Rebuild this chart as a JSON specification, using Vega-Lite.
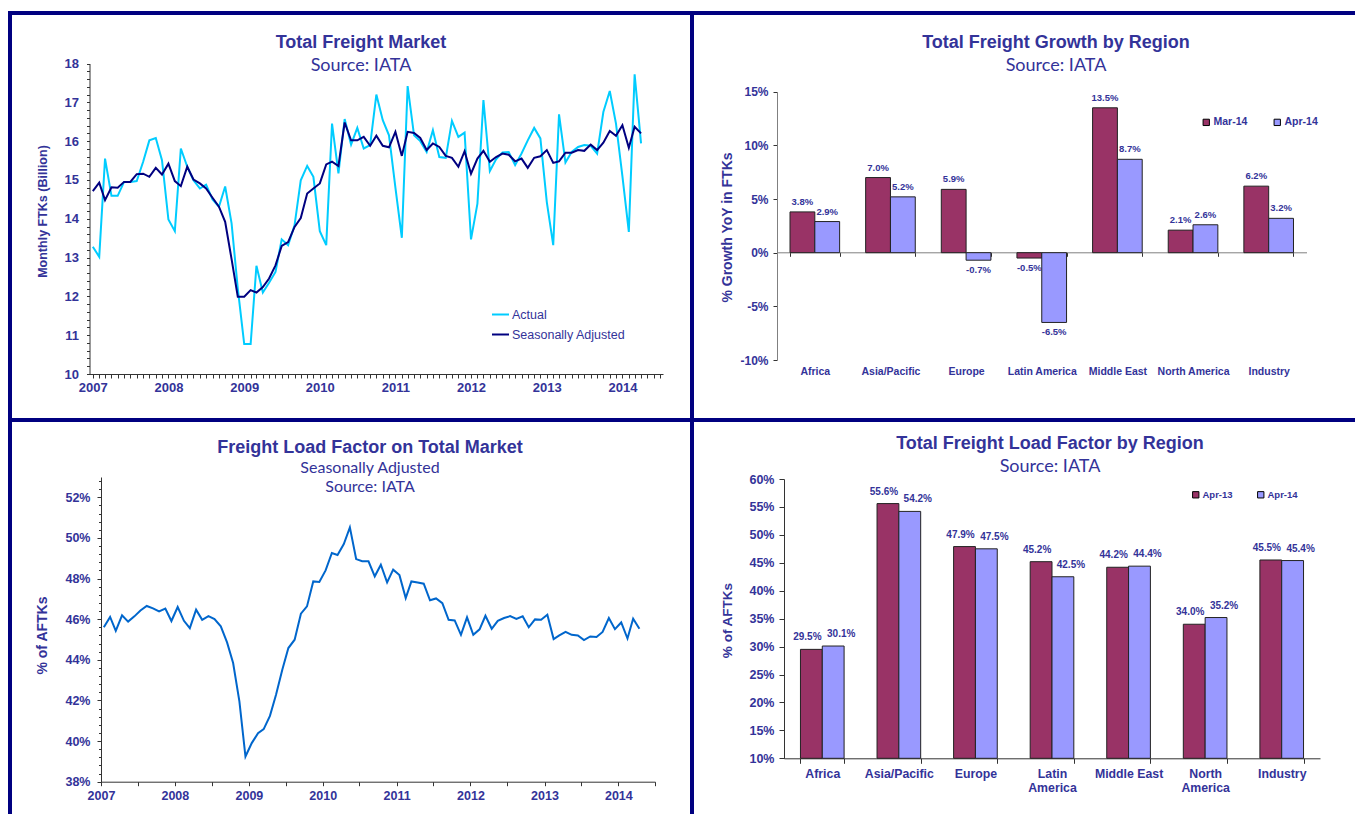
{
  "$schema": "https://vega.github.io/schema/vega-lite/v6.json",
  "padding": {"left": 8, "top": 11, "right": 0, "bottom": 0},
  "background": "white",
  "datasets": {
    "ftk": [
      {"date": "2007-01-01", "Actual": 13.28, "Seasonally Adjusted": 14.71},
      {"date": "2007-02-01", "Actual": 13.02, "Seasonally Adjusted": 14.93},
      {"date": "2007-03-01", "Actual": 15.55, "Seasonally Adjusted": 14.48},
      {"date": "2007-04-01", "Actual": 14.59, "Seasonally Adjusted": 14.81},
      {"date": "2007-05-01", "Actual": 14.59, "Seasonally Adjusted": 14.80},
      {"date": "2007-06-01", "Actual": 14.95, "Seasonally Adjusted": 14.95},
      {"date": "2007-07-01", "Actual": 14.95, "Seasonally Adjusted": 14.95},
      {"date": "2007-08-01", "Actual": 14.97, "Seasonally Adjusted": 15.15},
      {"date": "2007-09-01", "Actual": 15.47, "Seasonally Adjusted": 15.16},
      {"date": "2007-10-01", "Actual": 16.02, "Seasonally Adjusted": 15.08},
      {"date": "2007-11-01", "Actual": 16.08, "Seasonally Adjusted": 15.31},
      {"date": "2007-12-01", "Actual": 15.51, "Seasonally Adjusted": 15.14},
      {"date": "2008-01-01", "Actual": 13.98, "Seasonally Adjusted": 15.42},
      {"date": "2008-02-01", "Actual": 13.68, "Seasonally Adjusted": 14.97},
      {"date": "2008-03-01", "Actual": 15.81, "Seasonally Adjusted": 14.84},
      {"date": "2008-04-01", "Actual": 15.34, "Seasonally Adjusted": 15.34},
      {"date": "2008-05-01", "Actual": 14.99, "Seasonally Adjusted": 15.01},
      {"date": "2008-06-01", "Actual": 14.78, "Seasonally Adjusted": 14.91},
      {"date": "2008-07-01", "Actual": 14.88, "Seasonally Adjusted": 14.78},
      {"date": "2008-08-01", "Actual": 14.50, "Seasonally Adjusted": 14.54},
      {"date": "2008-09-01", "Actual": 14.31, "Seasonally Adjusted": 14.31},
      {"date": "2008-10-01", "Actual": 14.83, "Seasonally Adjusted": 13.92},
      {"date": "2008-11-01", "Actual": 13.88, "Seasonally Adjusted": 12.96},
      {"date": "2008-12-01", "Actual": 12.20, "Seasonally Adjusted": 11.99},
      {"date": "2009-01-01", "Actual": 10.77, "Seasonally Adjusted": 11.99},
      {"date": "2009-02-01", "Actual": 10.77, "Seasonally Adjusted": 12.16},
      {"date": "2009-03-01", "Actual": 12.79, "Seasonally Adjusted": 12.10},
      {"date": "2009-04-01", "Actual": 12.10, "Seasonally Adjusted": 12.24},
      {"date": "2009-05-01", "Actual": 12.35, "Seasonally Adjusted": 12.46},
      {"date": "2009-06-01", "Actual": 12.63, "Seasonally Adjusted": 12.80},
      {"date": "2009-07-01", "Actual": 13.47, "Seasonally Adjusted": 13.30},
      {"date": "2009-08-01", "Actual": 13.32, "Seasonally Adjusted": 13.40},
      {"date": "2009-09-01", "Actual": 13.83, "Seasonally Adjusted": 13.79},
      {"date": "2009-10-01", "Actual": 14.99, "Seasonally Adjusted": 14.02},
      {"date": "2009-11-01", "Actual": 15.36, "Seasonally Adjusted": 14.65},
      {"date": "2009-12-01", "Actual": 15.08, "Seasonally Adjusted": 14.78},
      {"date": "2010-01-01", "Actual": 13.68, "Seasonally Adjusted": 14.91},
      {"date": "2010-02-01", "Actual": 13.32, "Seasonally Adjusted": 15.40},
      {"date": "2010-03-01", "Actual": 16.45, "Seasonally Adjusted": 15.47},
      {"date": "2010-04-01", "Actual": 15.17, "Seasonally Adjusted": 15.36},
      {"date": "2010-05-01", "Actual": 16.57, "Seasonally Adjusted": 16.48},
      {"date": "2010-06-01", "Actual": 15.91, "Seasonally Adjusted": 16.02},
      {"date": "2010-07-01", "Actual": 16.34, "Seasonally Adjusted": 16.02},
      {"date": "2010-08-01", "Actual": 15.81, "Seasonally Adjusted": 16.11},
      {"date": "2010-09-01", "Actual": 15.90, "Seasonally Adjusted": 15.88},
      {"date": "2010-10-01", "Actual": 17.20, "Seasonally Adjusted": 16.14},
      {"date": "2010-11-01", "Actual": 16.54, "Seasonally Adjusted": 15.88},
      {"date": "2010-12-01", "Actual": 16.15, "Seasonally Adjusted": 15.84},
      {"date": "2011-01-01", "Actual": 14.80, "Seasonally Adjusted": 16.24},
      {"date": "2011-02-01", "Actual": 13.51, "Seasonally Adjusted": 15.62},
      {"date": "2011-03-01", "Actual": 17.42, "Seasonally Adjusted": 16.24},
      {"date": "2011-04-01", "Actual": 16.15, "Seasonally Adjusted": 16.21},
      {"date": "2011-05-01", "Actual": 16.00, "Seasonally Adjusted": 16.08},
      {"date": "2011-06-01", "Actual": 15.72, "Seasonally Adjusted": 15.77},
      {"date": "2011-07-01", "Actual": 16.28, "Seasonally Adjusted": 15.94},
      {"date": "2011-08-01", "Actual": 15.59, "Seasonally Adjusted": 15.85},
      {"date": "2011-09-01", "Actual": 15.57, "Seasonally Adjusted": 15.62},
      {"date": "2011-10-01", "Actual": 16.52, "Seasonally Adjusted": 15.57},
      {"date": "2011-11-01", "Actual": 16.11, "Seasonally Adjusted": 15.34},
      {"date": "2011-12-01", "Actual": 16.22, "Seasonally Adjusted": 15.74},
      {"date": "2012-01-01", "Actual": 13.47, "Seasonally Adjusted": 15.16},
      {"date": "2012-02-01", "Actual": 14.39, "Seasonally Adjusted": 15.55},
      {"date": "2012-03-01", "Actual": 17.06, "Seasonally Adjusted": 15.75},
      {"date": "2012-04-01", "Actual": 15.23, "Seasonally Adjusted": 15.47},
      {"date": "2012-05-01", "Actual": 15.53, "Seasonally Adjusted": 15.59},
      {"date": "2012-06-01", "Actual": 15.71, "Seasonally Adjusted": 15.68},
      {"date": "2012-07-01", "Actual": 15.72, "Seasonally Adjusted": 15.65},
      {"date": "2012-08-01", "Actual": 15.38, "Seasonally Adjusted": 15.48},
      {"date": "2012-09-01", "Actual": 15.68, "Seasonally Adjusted": 15.55},
      {"date": "2012-10-01", "Actual": 16.02, "Seasonally Adjusted": 15.31},
      {"date": "2012-11-01", "Actual": 16.34, "Seasonally Adjusted": 15.57},
      {"date": "2012-12-01", "Actual": 16.07, "Seasonally Adjusted": 15.61},
      {"date": "2013-01-01", "Actual": 14.43, "Seasonally Adjusted": 15.77},
      {"date": "2013-02-01", "Actual": 13.32, "Seasonally Adjusted": 15.44},
      {"date": "2013-03-01", "Actual": 16.69, "Seasonally Adjusted": 15.48},
      {"date": "2013-04-01", "Actual": 15.45, "Seasonally Adjusted": 15.70},
      {"date": "2013-05-01", "Actual": 15.72, "Seasonally Adjusted": 15.70},
      {"date": "2013-06-01", "Actual": 15.85, "Seasonally Adjusted": 15.77},
      {"date": "2013-07-01", "Actual": 15.90, "Seasonally Adjusted": 15.75},
      {"date": "2013-08-01", "Actual": 15.88, "Seasonally Adjusted": 15.91},
      {"date": "2013-09-01", "Actual": 15.68, "Seasonally Adjusted": 15.77},
      {"date": "2013-10-01", "Actual": 16.75, "Seasonally Adjusted": 15.96},
      {"date": "2013-11-01", "Actual": 17.29, "Seasonally Adjusted": 16.26},
      {"date": "2013-12-01", "Actual": 16.45, "Seasonally Adjusted": 16.14},
      {"date": "2014-01-01", "Actual": 15.10, "Seasonally Adjusted": 16.41},
      {"date": "2014-02-01", "Actual": 13.66, "Seasonally Adjusted": 15.83},
      {"date": "2014-03-01", "Actual": 17.72, "Seasonally Adjusted": 16.37},
      {"date": "2014-04-01", "Actual": 15.94, "Seasonally Adjusted": 16.20}
    ],
    "lf": [
      {"date": "2007-01-15", "lf": 45.60}, {"date": "2007-02-15", "lf": 46.11}, {"date": "2007-03-15", "lf": 45.43},
      {"date": "2007-04-15", "lf": 46.19}, {"date": "2007-05-15", "lf": 45.88}, {"date": "2007-06-15", "lf": 46.14},
      {"date": "2007-07-15", "lf": 46.43}, {"date": "2007-08-15", "lf": 46.65}, {"date": "2007-09-15", "lf": 46.53},
      {"date": "2007-10-15", "lf": 46.38}, {"date": "2007-11-15", "lf": 46.52}, {"date": "2007-12-15", "lf": 45.91},
      {"date": "2008-01-15", "lf": 46.60}, {"date": "2008-02-15", "lf": 45.92}, {"date": "2008-03-15", "lf": 45.56},
      {"date": "2008-04-15", "lf": 46.47}, {"date": "2008-05-15", "lf": 45.97}, {"date": "2008-06-15", "lf": 46.15},
      {"date": "2008-07-15", "lf": 46.01}, {"date": "2008-08-15", "lf": 45.65}, {"date": "2008-09-15", "lf": 44.86},
      {"date": "2008-10-15", "lf": 43.84}, {"date": "2008-11-15", "lf": 41.95}, {"date": "2008-12-15", "lf": 39.24},
      {"date": "2009-01-15", "lf": 39.90}, {"date": "2009-02-15", "lf": 40.39}, {"date": "2009-03-15", "lf": 40.59},
      {"date": "2009-04-15", "lf": 41.24}, {"date": "2009-05-15", "lf": 42.28}, {"date": "2009-06-15", "lf": 43.51},
      {"date": "2009-07-15", "lf": 44.58}, {"date": "2009-08-15", "lf": 44.99}, {"date": "2009-09-15", "lf": 46.27},
      {"date": "2009-10-15", "lf": 46.63}, {"date": "2009-11-15", "lf": 47.86}, {"date": "2009-12-15", "lf": 47.83},
      {"date": "2010-01-15", "lf": 48.40}, {"date": "2010-02-15", "lf": 49.26}, {"date": "2010-03-15", "lf": 49.16},
      {"date": "2010-04-15", "lf": 49.70}, {"date": "2010-05-15", "lf": 50.52}, {"date": "2010-06-15", "lf": 48.96},
      {"date": "2010-07-15", "lf": 48.85}, {"date": "2010-08-15", "lf": 48.85}, {"date": "2010-09-15", "lf": 48.11},
      {"date": "2010-10-15", "lf": 48.68}, {"date": "2010-11-15", "lf": 47.81}, {"date": "2010-12-15", "lf": 48.44},
      {"date": "2011-01-15", "lf": 48.17}, {"date": "2011-02-15", "lf": 47.04}, {"date": "2011-03-15", "lf": 47.86},
      {"date": "2011-04-15", "lf": 47.81}, {"date": "2011-05-15", "lf": 47.75}, {"date": "2011-06-15", "lf": 46.93},
      {"date": "2011-07-15", "lf": 47.02}, {"date": "2011-08-15", "lf": 46.79}, {"date": "2011-09-15", "lf": 45.97},
      {"date": "2011-10-15", "lf": 45.94}, {"date": "2011-11-15", "lf": 45.23}, {"date": "2011-12-15", "lf": 46.09},
      {"date": "2012-01-15", "lf": 45.23}, {"date": "2012-02-15", "lf": 45.50}, {"date": "2012-03-15", "lf": 46.17},
      {"date": "2012-04-15", "lf": 45.53}, {"date": "2012-05-15", "lf": 45.92}, {"date": "2012-06-15", "lf": 46.06},
      {"date": "2012-07-15", "lf": 46.15}, {"date": "2012-08-15", "lf": 46.01}, {"date": "2012-09-15", "lf": 46.14},
      {"date": "2012-10-15", "lf": 45.60}, {"date": "2012-11-15", "lf": 45.99}, {"date": "2012-12-15", "lf": 45.97},
      {"date": "2013-01-15", "lf": 46.22}, {"date": "2013-02-15", "lf": 45.02}, {"date": "2013-03-15", "lf": 45.20},
      {"date": "2013-04-15", "lf": 45.38}, {"date": "2013-05-15", "lf": 45.23}, {"date": "2013-06-15", "lf": 45.20},
      {"date": "2013-07-15", "lf": 44.97}, {"date": "2013-08-15", "lf": 45.15}, {"date": "2013-09-15", "lf": 45.12},
      {"date": "2013-10-15", "lf": 45.37}, {"date": "2013-11-15", "lf": 46.06}, {"date": "2013-12-15", "lf": 45.51},
      {"date": "2014-01-15", "lf": 45.84}, {"date": "2014-02-15", "lf": 45.05}, {"date": "2014-03-15", "lf": 46.02},
      {"date": "2014-04-15", "lf": 45.53}
    ],
    "growth": [
      {"region": "Africa", "series": "Mar-14", "v": 0.038},
      {"region": "Africa", "series": "Apr-14", "v": 0.029},
      {"region": "Asia/Pacific", "series": "Mar-14", "v": 0.070},
      {"region": "Asia/Pacific", "series": "Apr-14", "v": 0.052},
      {"region": "Europe", "series": "Mar-14", "v": 0.059},
      {"region": "Europe", "series": "Apr-14", "v": -0.007},
      {"region": "Latin America", "series": "Mar-14", "v": -0.005},
      {"region": "Latin America", "series": "Apr-14", "v": -0.065},
      {"region": "Middle East", "series": "Mar-14", "v": 0.135},
      {"region": "Middle East", "series": "Apr-14", "v": 0.087},
      {"region": "North America", "series": "Mar-14", "v": 0.021},
      {"region": "North America", "series": "Apr-14", "v": 0.026},
      {"region": "Industry", "series": "Mar-14", "v": 0.062},
      {"region": "Industry", "series": "Apr-14", "v": 0.032}
    ],
    "lfr": [
      {"region": "Africa", "series": "Apr-13", "v": 0.295},
      {"region": "Africa", "series": "Apr-14", "v": 0.301},
      {"region": "Asia/Pacific", "series": "Apr-13", "v": 0.556},
      {"region": "Asia/Pacific", "series": "Apr-14", "v": 0.542},
      {"region": "Europe", "series": "Apr-13", "v": 0.479},
      {"region": "Europe", "series": "Apr-14", "v": 0.475},
      {"region": "Latin America", "series": "Apr-13", "v": 0.452},
      {"region": "Latin America", "series": "Apr-14", "v": 0.425},
      {"region": "Middle East", "series": "Apr-13", "v": 0.442},
      {"region": "Middle East", "series": "Apr-14", "v": 0.444},
      {"region": "North America", "series": "Apr-13", "v": 0.340},
      {"region": "North America", "series": "Apr-14", "v": 0.352},
      {"region": "Industry", "series": "Apr-13", "v": 0.455},
      {"region": "Industry", "series": "Apr-14", "v": 0.454}
    ]
  },
  "columns": 2,
  "spacing": 0,
  "bounds": "flush",
  "resolve": {
    "scale": {"color": "independent", "xOffset": "independent", "x": "independent", "y": "independent"},
    "legend": {"color": "independent"},
    "axis": {"x": "independent", "y": "independent"}
  },
  "concat": [
    {
      "width": 682,
      "height": 407,
      "title": {"text": "Total Freight Market", "subtitle": "Source: IATA", "dx": 10, "offset": -62},
      "data": {"name": "ftk"},
      "transform": [{"fold": ["Actual", "Seasonally Adjusted"], "as": ["series", "value"]}],
      "mark": {"type": "line", "strokeWidth": 2},
      "encoding": {
        "x": {
          "field": "date", "type": "temporal",
          "scale": {"type": "utc", "domain": [{"year": 2006, "month": 12, "date": 16, "utc": true}, {"year": 2014, "month": 7, "date": 16, "utc": true}], "range": [79.5, 653]},
          "axis": {"offset": -46, "tickCount": {"interval": "month", "step": 1}, "labelExpr": "utcmonth(datum.value) === 0 ? utcFormat(datum.value, '%Y') : ''", "labelOverlap": false, "labelFlush": false, "tickSize": 4, "labelPadding": 3, "labelFontSize": 13, "title": null}
        },
        "y": {
          "field": "value", "type": "quantitative",
          "scale": {"domain": [10, 18], "range": [361, 50.5]},
          "axis": {"offset": -79.5, "values": [10,10.2,10.4,10.6,10.8,11,11.2,11.4,11.6,11.8,12,12.2,12.4,12.6,12.8,13,13.2,13.4,13.6,13.8,14,14.2,14.4,14.6,14.8,15,15.2,15.4,15.6,15.8,16,16.2,16.4,16.6,16.8,17,17.2,17.4,17.6,17.8,18], "labelExpr": "datum.value % 1 === 0 ? format(datum.value, 'd') : ''", "labelOverlap": false, "tickSize": 3, "labelPadding": 8, "labelFontSize": 13, "title": "Monthly FTKs (Billion)", "titleFontSize": 12.5, "titleX": -47.5, "titleY": 198, "titleAngle": -90, "titleAlign": "center", "titleBaseline": "middle"}
        },
        "color": {
          "field": "series", "type": "nominal",
          "scale": {"domain": ["Actual", "Seasonally Adjusted"], "range": ["#00ccff", "#000080"]},
          "legend": {"orient": "none", "legendX": 481, "legendY": 292, "direction": "vertical", "title": null, "symbolType": "stroke", "symbolSize": 289, "symbolStrokeWidth": 2, "labelFont": "Liberation Sans", "labelFontWeight": "normal", "labelFontSize": 12.5, "labelColor": "#333399", "rowPadding": 4, "labelOffset": 2, "padding": 0}
        }
      }
    },
    {
      "width": 728,
      "height": 407,
      "title": {"text": "Total Freight Growth by Region", "subtitle": "Source: IATA", "offset": -62},
      "data": {"name": "growth"},
      "encoding": {
        "x": {
          "field": "region", "type": "nominal",
          "sort": ["Africa", "Asia/Pacific", "Europe", "Latin America", "Middle East", "North America", "Industry"],
          "scale": {"range": [85, 614.5], "paddingInner": 0.344, "paddingOuter": 0.172},
          "axis": {"offset": -167.7, "tickBand": "extent", "tickSize": 4, "labelPadding": 110, "labelFontSize": 10.5, "labelAngle": 0, "domainColor": "#808080", "title": null}
        },
        "xOffset": {"field": "series", "type": "nominal", "sort": ["Mar-14", "Apr-14"]},
        "y": {
          "field": "v", "type": "quantitative",
          "scale": {"domain": [-0.1, 0.15], "range": [347, 78.7]},
          "axis": {"offset": -85, "values": [-0.1, -0.05, 0, 0.05, 0.1, 0.15], "format": ".0%", "tickSize": 4, "labelPadding": 5, "labelFontSize": 12, "domainColor": "#808080", "title": "% Growth YoY in FTKs", "titleFontSize": 14, "titleX": -50, "titleY": 214, "titleAngle": -90, "titleAlign": "center", "titleBaseline": "middle"}
        }
      },
      "layer": [
        {
          "mark": {"type": "bar", "stroke": "#222222", "strokeWidth": 1},
          "encoding": {
            "color": {
              "field": "series", "type": "nominal",
              "scale": {"domain": ["Mar-14", "Apr-14"], "range": ["#993366", "#9999ff"]},
              "legend": {"orient": "none", "legendX": 509, "legendY": 104, "direction": "horizontal", "title": null, "symbolType": "square", "symbolSize": 40, "symbolStrokeColor": "#000000", "symbolStrokeWidth": 1, "labelFont": "Liberation Sans", "labelFontWeight": "bold", "labelFontSize": 10.5, "labelColor": "#333399", "columnPadding": 24, "labelOffset": 2, "padding": 0}
            }
          }
        },
        {
          "transform": [{"filter": "datum.v >= 0"}],
          "mark": {"type": "text", "baseline": "bottom", "dy": -5, "font": "Liberation Sans", "fontWeight": "bold", "fontSize": 9.5, "color": "#333399"},
          "encoding": {"text": {"field": "v", "format": ".1%"}}
        },
        {
          "transform": [{"filter": "datum.v < 0"}],
          "mark": {"type": "text", "baseline": "top", "dy": 5, "font": "Liberation Sans", "fontWeight": "bold", "fontSize": 9.5, "color": "#333399"},
          "encoding": {"text": {"field": "v", "format": ".1%"}}
        }
      ]
    },
    {
      "width": 682,
      "height": 400,
      "title": {"text": "Freight Load Factor on Total Market", "subtitle": ["Seasonally Adjusted", "Source: IATA"], "dx": 19, "offset": -75, "subtitleFontSize": 16, "subtitleLineHeight": 19, "subtitlePadding": 3},
      "data": {"name": "lf"},
      "mark": {"type": "line", "strokeWidth": 2, "color": "#0066cc"},
      "encoding": {
        "x": {
          "field": "date", "type": "temporal",
          "scale": {"type": "utc", "domain": [{"year": 2007, "month": 1, "date": 1, "utc": true}, {"year": 2014, "month": 7, "date": 1, "utc": true}], "range": [91, 645]},
          "axis": {"offset": -38.3, "tickCount": {"interval": "month", "step": 6}, "labelExpr": "utcmonth(datum.value) === 0 ? utcFormat(datum.value, '%Y') : ''", "labelOverlap": false, "labelFlush": false, "tickSize": 4, "labelPadding": 4, "labelFontSize": 12.5, "title": null}
        },
        "y": {
          "field": "lf", "type": "quantitative",
          "scale": {"domain": [38, 53], "range": [361.7, 57]},
          "axis": {"offset": -91, "values": [38,38.4,38.8,39.2,39.6,40,40.4,40.8,41.2,41.6,42,42.4,42.8,43.2,43.6,44,44.4,44.8,45.2,45.6,46,46.4,46.8,47.2,47.6,48,48.4,48.8,49.2,49.6,50,50.4,50.8,51.2,51.6,52,52.4,52.8], "labelExpr": "datum.value % 2 === 0 ? datum.value + '%' : ''", "labelOverlap": false, "tickSize": {"condition": {"test": "datum.value % 2 === 0", "value": 4}, "value": 2.5}, "labelPadding": 7, "labelFontSize": 12.5, "title": "% of AFTKs", "titleFontSize": 14, "titleX": -59, "titleY": 215, "titleAngle": -90, "titleAlign": "center", "titleBaseline": "middle"}
        }
      }
    },
    {
      "width": 728,
      "height": 400,
      "title": {"text": "Total Freight Load Factor by Region", "subtitle": "Source: IATA", "dx": -6, "offset": -56},
      "data": {"name": "lfr"},
      "encoding": {
        "x": {
          "field": "region", "type": "nominal",
          "sort": ["Africa", "Asia/Pacific", "Europe", "Latin America", "Middle East", "North America", "Industry"],
          "scale": {"range": [92, 628], "paddingInner": 0.43, "paddingOuter": 0.215},
          "axis": {"offset": -61.7, "tickBand": "extent", "tickSize": 5, "labelPadding": 4, "labelFontSize": 12.3, "labelAngle": 0, "labelLineHeight": 14, "labelExpr": "datum.value === 'Latin America' ? ['Latin', 'America'] : datum.value === 'North America' ? ['North', 'America'] : datum.label", "title": null}
        },
        "xOffset": {"field": "series", "type": "nominal", "sort": ["Apr-13", "Apr-14"]},
        "y": {
          "field": "v", "type": "quantitative",
          "scale": {"domain": [0.1, 0.6], "range": [338.3, 59], "zero": false},
          "axis": {"offset": -92, "values": [0.1, 0.15, 0.2, 0.25, 0.3, 0.35, 0.4, 0.45, 0.5, 0.55, 0.6], "format": ".0%", "tickSize": 5, "labelPadding": 5, "labelFontSize": 12.5, "title": "% of AFTKs", "titleFontSize": 13.5, "titleX": -57, "titleY": 200, "titleAngle": -90, "titleAlign": "center", "titleBaseline": "middle"}
        }
      },
      "layer": [
        {
          "mark": {"type": "bar", "stroke": "#222222", "strokeWidth": 1},
          "encoding": {
            "y2": {"datum": 0.1},
            "color": {
              "field": "series", "type": "nominal",
              "scale": {"domain": ["Apr-13", "Apr-14"], "range": ["#993366", "#9999ff"]},
              "legend": {"orient": "none", "legendX": 499, "legendY": 70, "direction": "horizontal", "title": null, "symbolType": "square", "symbolSize": 40, "symbolStrokeColor": "#000000", "symbolStrokeWidth": 1, "labelFont": "Liberation Sans", "labelFontWeight": "bold", "labelFontSize": 9.5, "labelColor": "#333399", "columnPadding": 22, "labelOffset": 2, "padding": 0}
            }
          }
        },
        {
          "transform": [{"filter": "datum.series === 'Apr-13'"}],
          "mark": {"type": "text", "baseline": "bottom", "dy": -7, "dx": -4, "font": "Liberation Sans", "fontWeight": "bold", "fontSize": 10, "color": "#333399"},
          "encoding": {"text": {"field": "v", "format": ".1%"}}
        },
        {
          "transform": [{"filter": "datum.series === 'Apr-14'"}],
          "mark": {"type": "text", "baseline": "bottom", "dy": -7, "dx": 8, "font": "Liberation Sans", "fontWeight": "bold", "fontSize": 10, "color": "#333399"},
          "encoding": {"text": {"field": "v", "format": ".1%"}}
        }
      ]
    }
  ],
  "config": {
    "view": {"stroke": "#000080", "strokeWidth": 4},
    "axis": {"grid": false, "labelFont": "Liberation Sans", "labelFontWeight": "bold", "labelColor": "#333399", "titleFont": "Liberation Sans", "titleFontWeight": "bold", "titleColor": "#333399", "domainColor": "#333333", "tickColor": "#333333", "domainWidth": 1, "tickWidth": 1},
    "title": {"font": "Liberation Sans", "fontSize": 18, "fontWeight": "bold", "color": "#333399", "subtitleFont": "Lato", "subtitleFontSize": 18, "subtitleColor": "#333399", "subtitlePadding": 5, "frame": "group", "anchor": "middle"},
    "locale": {"number": {"decimal": ".", "thousands": ",", "grouping": [3], "currency": ["$", ""], "minus": "-"}}
  }
}
